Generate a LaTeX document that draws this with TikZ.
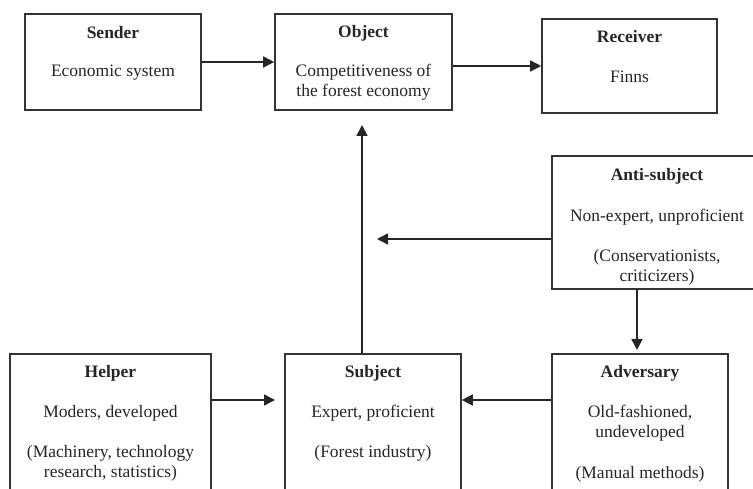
\documentclass[tikz,border=0pt]{standalone}
\usepackage{fontspec}
\setmainfont{Liberation Serif}
\usetikzlibrary{arrows.meta}
\begin{document}
\begin{tikzpicture}[x=1pt,y=-1pt,
  box/.style={draw=black!80,line width=1.6pt,minimum width=#1,inner sep=0pt},
  lbl/.style={font=\fontsize{17.5}{20}\selectfont,align=center,inner sep=0pt,text=black!85},
  arr/.style={draw=black!85,line width=1.6pt,-{Triangle[length=11pt,width=11pt]}}]
\clip (0,0) rectangle (753,489);
\fill[white] (0,0) rectangle (753,489);
% boxes
\node[box=176pt,minimum height=96pt] (sender) at (113,62) {};
\node[box=177pt,minimum height=96pt] (object) at (363.5,62) {};
\node[box=175pt,minimum height=94pt] (receiver) at (629.5,66) {};
\node[box=210pt,minimum height=133pt] (anti) at (657,222.5) {};
\node[box=201pt,minimum height=146pt] (helper) at (110.5,427) {};
\node[box=176pt,minimum height=146pt] (subject) at (373,427) {};
\node[box=176pt,minimum height=146pt] (adversary) at (640,427) {};
% texts
\node[lbl] (sender-t) at (113,33) {\textbf{Sender}};
\node[lbl] (sender-d) at (113,73) {Economic system};
\node[lbl] (object-t) at (363.5,33) {\textbf{Object}};
\node[lbl] (object-d) at (363.5,82) {Competitiveness of\\the forest economy};
\node[lbl] (receiver-t) at (629.5,37) {\textbf{Receiver}};
\node[lbl] (receiver-d) at (629.5,77) {Finns};
\node[lbl] (anti-t) at (657,176) {\textbf{Anti-subject}};
\node[lbl] (anti-d) at (657,217) {Non-expert, unproficient};
\node[lbl] (anti-e) at (657,267) {(Conservationists,\\criticizers)};
\node[lbl] (helper-t) at (110.5,373) {\textbf{Helper}};
\node[lbl] (helper-d) at (110.5,413) {Moders, developed};
\node[lbl] (helper-e) at (110.5,463) {(Machinery, technology\\research, statistics)};
\node[lbl] (subject-t) at (373,373) {\textbf{Subject}};
\node[lbl] (subject-d) at (373,413) {Expert, proficient};
\node[lbl] (subject-e) at (373,453) {(Forest industry)};
\node[lbl] (adversary-t) at (640,373) {\textbf{Adversary}};
\node[lbl] (adversary-d) at (640,423) {Old-fashioned,\\undeveloped};
\node[lbl] (adversary-e) at (640,474) {(Manual methods)};
% connectors
\coordinate (row) at (0,400);
\coordinate (obj-in) at (362,125);
\coordinate (free) at (377,239);
\coordinate (adv-in) at (637,350);
\coordinate (sub-in) at (275,400);
\draw[arr] (sender.east) -- (object.west);
\draw[arr] (object.east |- receiver.west) -- (receiver.west);
\draw[arr] (subject.north -| obj-in) -- (obj-in);
\draw[arr] (anti.west |- free) -- (free);
\draw[arr] (anti.south -| adv-in) -- (adv-in);
\draw[arr] (helper.east |- row) -- (sub-in);
\draw[arr] (adversary.west |- row) -- (subject.east |- row);
\end{tikzpicture}
\end{document}
